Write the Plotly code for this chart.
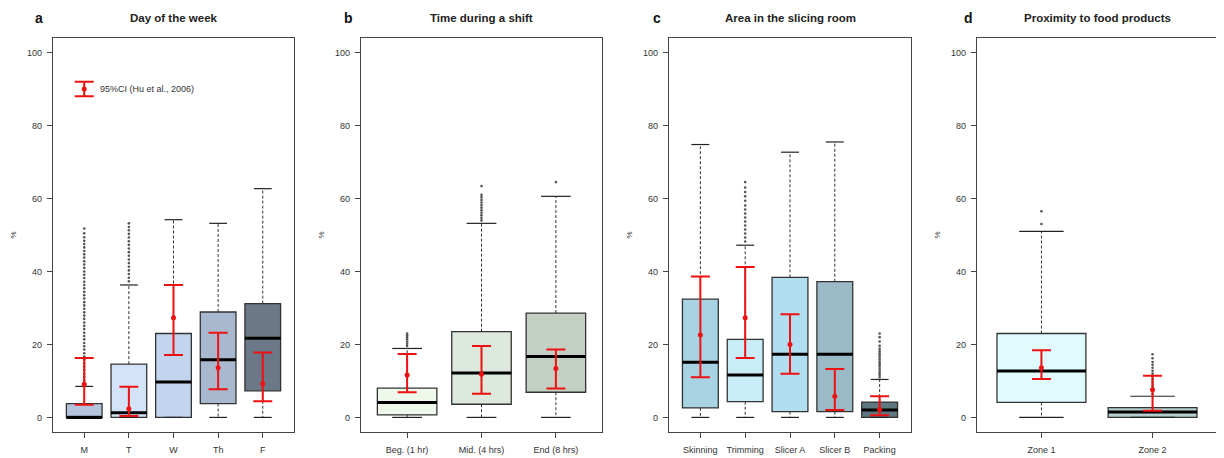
import plotly.graph_objects as go
from plotly.subplots import make_subplots

# ---------------- data ----------------
# Panel a: Day of the week
a_cats = ["M", "T", "W", "Th", "F"]
a_q1 = [0.0, 0.0, 0.0, 3.8, 7.3]
a_med = [0.0, 1.3, 9.7, 15.8, 21.7]
a_q3 = [3.8, 14.6, 23.0, 28.9, 31.2]
a_lo = [0.0, 0.0, 0.0, 0.0, 0.0]
a_hi = [8.5, 36.3, 54.2, 53.2, 62.7]
a_ci_mid = [9.1, 2.4, 27.3, 13.6, 9.2]
a_ci_lo = [3.5, 0.4, 17.1, 7.7, 4.4]
a_ci_hi = [16.3, 8.4, 36.3, 23.2, 17.8]
a_out = [
    [9.3, 10.2, 11.1, 12.0, 13.0, 13.9, 14.8, 15.8, 16.7, 17.6, 18.6, 19.5, 20.4,
     21.4, 22.3, 23.2, 24.2, 25.1, 26.0, 27.0, 27.9, 28.8, 29.8, 30.7, 31.6, 32.6,
     33.5, 34.4, 35.4, 36.3, 37.2, 38.2, 39.1, 40.0, 41.0, 41.9, 42.8, 43.8, 44.7,
     45.6, 46.6, 47.5, 48.4, 49.4, 50.5, 51.8],
    [37.3, 38.3, 39.3, 40.3, 41.3, 42.3, 43.3, 44.3, 45.3, 46.3, 47.3, 48.3, 49.3,
     50.3, 51.3, 52.2, 53.2],
    [], [], []]

# Panel b: Time during a shift
b_cats = ["Beg. (1 hr)", "Mid. (4 hrs)", "End (8 hrs)"]
b_q1 = [0.7, 3.6, 6.9]
b_med = [4.1, 12.2, 16.7]
b_q3 = [8.0, 23.5, 28.6]
b_lo = [0.0, 0.0, 0.0]
b_hi = [18.9, 53.2, 60.6]
b_ci_mid = [11.6, 11.8, 13.4]
b_ci_lo = [6.9, 6.5, 7.9]
b_ci_hi = [17.4, 19.6, 18.6]
b_out = [
    [19.6, 20.2, 20.8, 21.4, 22.0, 22.5, 23.0],
    [54.0, 54.7, 55.4, 56.1, 56.8, 57.5, 58.2, 58.9, 59.6, 60.3, 61.0, 63.4],
    [64.5]]

# Panel c: Area in the slicing room
c_cats = ["Skinning", "Trimming", "Slicer A", "Slicer B", "Packing"]
c_q1 = [2.6, 4.3, 1.6, 1.6, 0.0]
c_med = [15.1, 11.6, 17.3, 17.3, 2.0]
c_q3 = [32.4, 21.4, 38.4, 37.2, 4.2]
c_lo = [0.0, 0.0, 0.0, 0.0, 0.0]
c_hi = [74.8, 47.2, 72.7, 75.5, 10.4]
c_ci_mid = [22.6, 27.3, 20.0, 5.8, 2.2]
c_ci_lo = [11.0, 16.3, 12.0, 2.0, 0.6]
c_ci_hi = [38.6, 41.2, 28.3, 13.3, 5.8]
c_out = [
    [],
    [48.2, 49.3, 50.4, 51.5, 52.6, 53.7, 54.8, 55.9, 57.0, 58.1, 59.4, 60.6, 61.8,
     63.0, 64.5],
    [], [],
    [11.0, 11.6, 12.2, 12.8, 13.4, 14.0, 14.6, 15.2, 15.8, 16.4, 17.0, 17.6, 18.2,
     18.8, 19.6, 20.8, 22.0, 23.0]]

# Panel d: Proximity to food products
d_cats = ["Zone 1", "Zone 2"]
d_q1 = [4.1, 0.0]
d_med = [12.7, 1.5]
d_q3 = [23.0, 2.7]
d_lo = [0.0, 0.0]
d_hi = [51.0, 5.8]
d_ci_mid = [13.6, 7.6]
d_ci_lo = [10.5, 1.8]
d_ci_hi = [18.4, 11.4]
d_out = [
    [53.0, 56.5],
    [6.4, 7.2, 8.0, 8.8, 9.6, 10.4, 11.2, 12.0, 12.8, 13.6, 14.4, 15.2, 16.2, 17.3]]

# Legend reference CI (panel a)
leg_ci_mid = [90.0]
leg_ci_lo = [88.0]
leg_ci_hi = [92.0]
leg_text = "95%CI (Hu et al., 2006)"

titles = ["Day of the week", "Time during a shift", "Area in the slicing room",
          "Proximity to food products"]
letters = ["a", "b", "c", "d"]

# ---------------- styling ----------------
a_fill = ["#b3c4dc", "#d3e4fa", "#c2d5ef", "#a8b8ce", "#6b7888"]
b_fill = ["#eef9ec", "#dde9dc", "#c4d0c4"]
c_fill = ["#a8d3e3", "#c8edf9", "#b1def0", "#9bbac8", "#5f7780"]
d_fill = ["#e0fbff", "#b5cfcf"]

# page has an 8px body margin: figure covers window pixels 8..1224 x 8..458
OFF = 8
W, H = 1224 - OFF, 458 - OFF
x_px = [(53, 294), (361, 602), (669, 911), (977, 1217)]
y_top, y_bot = 38, 432
FONT = "Liberation Sans, Arial, sans-serif"

panels = [
    (a_cats, a_q1, a_med, a_q3, a_lo, a_hi, a_ci_mid, a_ci_lo, a_ci_hi, a_out, a_fill),
    (b_cats, b_q1, b_med, b_q3, b_lo, b_hi, b_ci_mid, b_ci_lo, b_ci_hi, b_out, b_fill),
    (c_cats, c_q1, c_med, c_q3, c_lo, c_hi, c_ci_mid, c_ci_lo, c_ci_hi, c_out, c_fill),
    (d_cats, d_q1, d_med, d_q3, d_lo, d_hi, d_ci_mid, d_ci_lo, d_ci_hi, d_out, d_fill),
]


def px_x(v):
    return (v - OFF) / W


def px_y(v):
    return 1 - (v - OFF) / H


fig = make_subplots(rows=1, cols=4)

for col, (cats, q1, med, q3, lo, hi, cm, cl, ch, outs, fills) in enumerate(panels, start=1):
    n = len(cats)
    pos = list(range(1, n + 1))
    # boxes
    for i in range(n):
        fig.add_trace(go.Box(
            x=[pos[i]], q1=[q1[i]], median=[med[i]], q3=[q3[i]],
            lowerfence=[q1[i]], upperfence=[q3[i]],
            width=0.8, whiskerwidth=0, fillcolor=fills[i],
            line=dict(color="#333333", width=1.3), boxpoints=False,
            hoverinfo="skip"), row=1, col=col)
    # dashed whiskers
    wx, wy = [], []
    for i in range(n):
        wx += [pos[i], pos[i], None, pos[i], pos[i], None]
        wy += [q3[i], hi[i], None, q1[i], lo[i], None]
    fig.add_trace(go.Scatter(x=wx, y=wy, mode="lines",
                             line=dict(color="#333333", width=1, dash="3px,2px"),
                             hoverinfo="skip"), row=1, col=col)
    # staples
    sx, sy = [], []
    for i in range(n):
        sx += [pos[i] - 0.2, pos[i] + 0.2, None, pos[i] - 0.2, pos[i] + 0.2, None]
        sy += [hi[i], hi[i], None, lo[i], lo[i], None]
    fig.add_trace(go.Scatter(x=sx, y=sy, mode="lines",
                             line=dict(color="#222222", width=1.2),
                             hoverinfo="skip"), row=1, col=col)
    # medians
    mx, my = [], []
    for i in range(n):
        mx += [pos[i] - 0.4, pos[i] + 0.4, None]
        my += [med[i], med[i], None]
    fig.add_trace(go.Scatter(x=mx, y=my, mode="lines",
                             line=dict(color="#000000", width=3),
                             hoverinfo="skip"), row=1, col=col)
    # outliers
    ox, oy = [], []
    for i in range(n):
        ox += [pos[i]] * len(outs[i])
        oy += outs[i]
    fig.add_trace(go.Scatter(x=ox, y=oy, mode="markers",
                             marker=dict(color="#555555", size=2.6),
                             hoverinfo="skip"), row=1, col=col)
    # CI error bars
    fig.add_trace(go.Scatter(
        x=pos, y=cm, mode="markers",
        marker=dict(color="#ee1111", size=5),
        error_y=dict(type="data", symmetric=False,
                     array=[h - m for h, m in zip(ch, cm)],
                     arrayminus=[m - l for m, l in zip(cm, cl)],
                     color="#ee1111", thickness=2, width=9.5),
        hoverinfo="skip"), row=1, col=col)

    # axes
    xr = 0.04 * n
    xaxis = dict(domain=[px_x(x_px[col - 1][0]), px_x(x_px[col - 1][1])],
                 range=[0.5 - xr, n + 0.5 + xr], tickvals=pos, ticktext=cats,
                 showgrid=False, zeroline=False, showline=True, mirror=True,
                 linecolor="#444444", linewidth=1.2, ticks="outside", ticklen=5,
                 tickcolor="#444444", tickfont=dict(size=9, color="#333333", family=FONT),
                 ticklabelstandoff=4)
    yaxis = dict(domain=[px_y(y_bot), px_y(y_top)], range=[-4, 104],
                 tickvals=[0, 20, 40, 60, 80, 100], showgrid=False, zeroline=False,
                 showline=True, mirror=True, linecolor="#444444", linewidth=1.2,
                 ticks="outside", ticklen=5, tickcolor="#444444",
                 tickfont=dict(size=9, color="#333333", family=FONT),
                 ticklabelstandoff=3,
                 title=dict(text="%", font=dict(size=8, color="#333333", family=FONT),
                            standoff=9))
    suffix = "" if col == 1 else str(col)
    fig.update_layout({"xaxis" + suffix: xaxis, "yaxis" + suffix: yaxis})

    # titles
    cx = px_x((x_px[col - 1][0] + x_px[col - 1][1]) / 2)
    fig.add_annotation(x=cx, y=px_y(18), xref="paper", yref="paper",
                       text="<b>" + titles[col - 1] + "</b>", showarrow=False,
                       font=dict(size=11.5, color="#222222", family=FONT),
                       xanchor="center", yanchor="middle")

letter_x = [39, 348, 657, 968]
for k, lt in enumerate(letters):
    fig.add_annotation(x=px_x(letter_x[k]), y=px_y(18), xref="paper", yref="paper",
                       text="<b>" + lt + "</b>", showarrow=False,
                       font=dict(size=14, color="#111111", family=FONT),
                       xanchor="center", yanchor="middle")

# legend for reference CI in panel a
fig.add_trace(go.Scatter(
    x=[1], y=leg_ci_mid, mode="markers", marker=dict(color="#ee1111", size=5),
    error_y=dict(type="data", symmetric=False,
                 array=[leg_ci_hi[0] - leg_ci_mid[0]],
                 arrayminus=[leg_ci_mid[0] - leg_ci_lo[0]],
                 color="#ee1111", thickness=2, width=9.5),
    hoverinfo="skip"), row=1, col=1)
fig.add_annotation(x=1.3, y=leg_ci_mid[0], xref="x", yref="y", text=leg_text,
                   showarrow=False, xanchor="left", yanchor="middle",
                   font=dict(size=9, color="#333333", family=FONT))

fig.update_layout(width=W, height=H, margin=dict(l=0, r=0, t=0, b=0),
                  paper_bgcolor="white", plot_bgcolor="white", showlegend=False,
                  boxmode="overlay")

fig.write_html("out.html")
